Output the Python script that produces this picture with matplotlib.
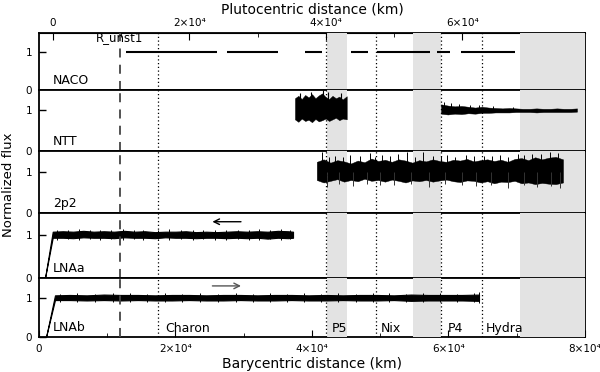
import matplotlib
matplotlib.use("Agg")
import matplotlib.pyplot as plt
from matplotlib.ticker import FuncFormatter, MultipleLocator, FixedLocator

plt.rcParams['font.family'] = ['DejaVu Sans']

# ---------------- data (km, barycentric) ----------------
panel_names = ["NACO", "NTT", "2p2", "LNAa", "LNAb"]
pluto_offset = 2035  # barycentric - plutocentric

# NACO: segments at flux 1
naco_start = [12750, 27550, 38970, 45710, 49520, 58320, 61830]
naco_end = [26080, 35020, 41470, 48210, 57290, 60220, 69740]

# NTT
ntt1_x = [37500, 38000, 38500, 39000, 39500, 40000, 40500, 41000, 41500, 42000, 42500, 43000, 43500, 44000, 44500, 45090]
ntt1_hi = [1.30, 1.36, 1.28, 1.38, 1.32, 1.40, 1.30, 1.37, 1.42, 1.33, 1.28, 1.36, 1.30, 1.34, 1.27, 1.35]
ntt1_lo = [0.78, 0.72, 0.80, 0.74, 0.77, 0.71, 0.79, 0.73, 0.76, 0.80, 0.74, 0.78, 0.82, 0.76, 0.80, 0.78]
ntt1_spk_x = [38200, 39800, 41630, 42400, 44300]
ntt1_spk = [1.44, 1.45, 1.50, 1.45, 1.43]
ntt2_x = [58900, 59900, 60900, 61900, 62900, 63900, 64900, 65900, 66900, 67900, 68900, 69900, 70900, 71900, 72900, 73900, 74900, 75900, 76900, 77900, 78830]
ntt2_hi = [1.15, 1.12, 1.10, 1.11, 1.09, 1.07, 1.09, 1.07, 1.06, 1.05, 1.06, 1.05, 1.04, 1.04, 1.05, 1.04, 1.04, 1.05, 1.04, 1.04, 1.05]
ntt2_lo = [0.92, 0.90, 0.92, 0.91, 0.93, 0.92, 0.94, 0.94, 0.95, 0.95, 0.95, 0.96, 0.96, 0.96, 0.95, 0.96, 0.96, 0.96, 0.96, 0.96, 0.97]
ntt2_spk_x = [59400, 60300, 61500, 63200, 64400, 66500, 69400]
ntt2_spk = [1.20, 1.18, 1.15, 1.13, 1.14, 1.10, 1.09]

# 2p2
p2_x = [40700, 41700, 42700, 43700, 44700, 45700, 46700, 47700, 48700, 49700, 50700, 51700, 52700, 53700, 54700, 55700, 56700, 57700, 58700, 59700, 60700, 61700, 62700, 63700, 64700, 65700, 66700, 67700, 68700, 69700, 70700, 71700, 72700, 73700, 74700, 75700, 76780]
p2_hi = [1.24, 1.30, 1.22, 1.28, 1.25, 1.20, 1.27, 1.23, 1.32, 1.26, 1.29, 1.24, 1.30, 1.27, 1.22, 1.28, 1.25, 1.30, 1.26, 1.24, 1.29, 1.27, 1.31, 1.25, 1.28, 1.30, 1.26, 1.29, 1.24, 1.31, 1.33, 1.28, 1.35, 1.30, 1.34, 1.36, 1.30]
p2_lo = [0.80, 0.74, 0.78, 0.82, 0.76, 0.80, 0.77, 0.83, 0.78, 0.80, 0.76, 0.81, 0.78, 0.74, 0.79, 0.77, 0.80, 0.76, 0.79, 0.81, 0.77, 0.75, 0.79, 0.78, 0.74, 0.77, 0.72, 0.76, 0.75, 0.78, 0.72, 0.74, 0.70, 0.73, 0.71, 0.70, 0.74]
p2_spk_x = [41400, 42500, 43300, 44500, 45600, 47000, 48500, 49300, 50300, 51400, 52600, 53900, 55100, 56300, 57700, 58900, 59800, 61000, 62500, 63800, 65200, 66400, 67600, 68700, 70200, 71000, 72300, 73600, 74900, 76100]
p2_spk = [1.47, 1.36, 1.38, 1.35, 1.40, 1.37, 1.46, 1.36, 1.40, 1.38, 1.42, 1.47, 1.36, 1.47, 1.38, 1.37, 1.40, 1.36, 1.41, 1.37, 1.39, 1.38, 1.40, 1.36, 1.42, 1.40, 1.44, 1.43, 1.47, 1.45]
p2_dip_x = [42150, 44000, 46000, 48000, 50000, 52000, 54500, 57200, 59500, 62000, 64000, 66300, 68700, 71000, 73000, 75000, 76300]
p2_dip = [0.62, 0.70, 0.66, 0.71, 0.69, 0.68, 0.70, 0.64, 0.70, 0.68, 0.66, 0.69, 0.60, 0.67, 0.63, 0.65, 0.60]

# LNAa
lnaa_x = [880, 2010, 3500, 5000, 6500, 8000, 9500, 11000, 12500, 14000, 15500, 17000, 18500, 20000, 21500, 23000, 24500, 26000, 27500, 29000, 30500, 32000, 33500, 35000, 36500, 37220]
lnaa_hi = [0.0, 1.07, 1.08, 1.07, 1.09, 1.07, 1.08, 1.07, 1.09, 1.07, 1.08, 1.06, 1.07, 1.07, 1.08, 1.06, 1.07, 1.06, 1.07, 1.08, 1.07, 1.08, 1.07, 1.09, 1.08, 1.07]
lnaa_lo = [0.0, 0.93, 0.93, 0.92, 0.94, 0.93, 0.93, 0.92, 0.94, 0.93, 0.93, 0.92, 0.94, 0.93, 0.93, 0.92, 0.93, 0.93, 0.92, 0.93, 0.92, 0.93, 0.91, 0.93, 0.92, 0.93]
lnaa_spk_x = [2600, 4200, 5900, 7400, 9000, 10600, 12300, 13900, 15200, 17400, 19000, 20800, 22600, 24100, 25800, 27400, 29100, 30700, 32300, 33900, 35400, 36800]
lnaa_spk_hi = [1.12, 1.11, 1.13, 1.10, 1.12, 1.11, 1.14, 1.10, 1.12, 1.11, 1.13, 1.10, 1.12, 1.10, 1.11, 1.10, 1.12, 1.11, 1.14, 1.12, 1.13, 1.12]
lnaa_spk_lo = [0.88, 0.89, 0.87, 0.90, 0.88, 0.89, 0.88, 0.90, 0.87, 0.89, 0.88, 0.90, 0.88, 0.89, 0.88, 0.87, 0.89, 0.88, 0.87, 0.89, 0.88, 0.89]

# LNAb
lnab_x = [1030, 2340, 4500, 7000, 9500, 12000, 14500, 17000, 19500, 22000, 24500, 27000, 29500, 32000, 34500, 37000, 39500, 42000, 44500, 47000, 49500, 52000, 54500, 57000, 59500, 62000, 64470]
lnab_hi = [0.0, 1.06, 1.07, 1.06, 1.08, 1.07, 1.07, 1.06, 1.07, 1.07, 1.06, 1.07, 1.07, 1.06, 1.07, 1.07, 1.06, 1.07, 1.06, 1.07, 1.07, 1.06, 1.08, 1.07, 1.07, 1.07, 1.08]
lnab_lo = [0.0, 0.94, 0.94, 0.93, 0.94, 0.93, 0.94, 0.93, 0.93, 0.94, 0.93, 0.93, 0.94, 0.93, 0.93, 0.94, 0.93, 0.93, 0.94, 0.93, 0.93, 0.94, 0.92, 0.93, 0.93, 0.93, 0.92]
lnab_spk_x = [3100, 5600, 8200, 10800, 13300, 15800, 18500, 21000, 23600, 26200, 28800, 31300, 33800, 36300, 38800, 41300, 43800, 46400, 48900, 51300, 53800, 56300, 58800, 61300, 63700, 64400]
lnab_spk_hi = [1.10, 1.11, 1.10, 1.12, 1.11, 1.10, 1.12, 1.10, 1.11, 1.10, 1.12, 1.10, 1.11, 1.10, 1.11, 1.10, 1.11, 1.10, 1.12, 1.11, 1.10, 1.13, 1.11, 1.10, 1.12, 1.14]
lnab_spk_lo = [0.90, 0.89, 0.90, 0.88, 0.90, 0.89, 0.90, 0.88, 0.90, 0.89, 0.90, 0.89, 0.88, 0.90, 0.89, 0.90, 0.88, 0.90, 0.89, 0.90, 0.88, 0.90, 0.89, 0.88, 0.89, 0.87]

# reference lines and shaded bands
sat_names = ["Charon", "P5", "Nix", "P4", "Hydra"]
sat_x = [17480, 42050, 49380, 58860, 64910]
sat_label_x = [18500, 42900, 50100, 59900, 65400]
r_unst1 = 11870
band_start = [42150, 54800, 70480]
band_end = [45090, 58860, 80000]

# tick values
bary_ticks = [0, 20000, 40000, 60000, 80000]
pluto_ticks = [0, 20000, 40000, 60000]
pluto_minor = [10000, 30000, 50000, 70000]

# ---------------- figure ----------------
fig = plt.figure(figsize=(6.0, 3.72), dpi=100)
gs = fig.add_gridspec(5, 1, left=0.065, right=0.975, top=0.911, bottom=0.094,
                      hspace=0, height_ratios=[57, 61, 62, 65, 59])
axes = [fig.add_subplot(gs[i]) for i in range(5)]

sci = lambda v, p: "0" if v == 0 else "%d×10⁴" % round(v / 1e4)

for i, ax in enumerate(axes):
    ax.set_xlim(0, 80000)
    ax.set_ylim(0, 1.5)
    ax.set_yticks([0, 1])
    ax.set_yticklabels(["0", "1"])
    ax.tick_params(axis='y', direction='in', length=5, width=1, labelsize=7.5, pad=5)
    for s in ax.spines.values():
        s.set_linewidth(1.3)
        s.set_zorder(2)
    for a, b in zip(band_start, band_end):
        ax.axvspan(a, b, color='#e3e3e3', lw=0, zorder=3)
    for x in sat_x:
        ax.axvline(x, color='black', lw=0.9, ls=(0, (1, 2)), zorder=5)
    ax.axvline(r_unst1, color='#444444', lw=1.3, ls=(0, (5, 4)), zorder=5)
    ax.text(2000, 0.08, panel_names[i], fontsize=9, ha='left', va='bottom', zorder=6)
    if i < 4:
        ax.tick_params(axis='x', bottom=False, labelbottom=False)
    else:
        ax.xaxis.set_major_locator(FixedLocator(bary_ticks))
        ax.xaxis.set_minor_locator(MultipleLocator(10000))
        ax.xaxis.set_major_formatter(FuncFormatter(sci))
        ax.tick_params(axis='x', which='major', direction='in', length=5, labelsize=7.5, pad=5)
        ax.tick_params(axis='x', which='minor', direction='in', length=3)
        ax.set_xlabel("Barycentric distance (km)", fontsize=10, labelpad=2)

# NACO
axes[0].hlines([1] * len(naco_start), naco_start, naco_end, color='black', lw=1.5, zorder=4)
axes[0].text(r_unst1, 1.2, "R_unst1", fontsize=8.5, ha='center', va='bottom', zorder=6)

# NTT
axes[1].fill_between(ntt1_x, ntt1_lo, ntt1_hi, color='black', lw=0.3, zorder=4)
axes[1].vlines(ntt1_spk_x, 1.0, ntt1_spk, color='black', lw=0.8, zorder=4)
axes[1].fill_between(ntt2_x, ntt2_lo, ntt2_hi, color='black', lw=0.3, zorder=4)
axes[1].vlines(ntt2_spk_x, 1.0, ntt2_spk, color='black', lw=0.7, zorder=4)

# 2p2
axes[2].fill_between(p2_x, p2_lo, p2_hi, color='black', lw=0.3, zorder=4)
axes[2].vlines(p2_spk_x, 1.0, p2_spk, color='black', lw=0.7, zorder=4)
axes[2].vlines(p2_dip_x, p2_dip, 1.0, color='#333333', lw=0.7, zorder=4)

# LNAa
axes[3].fill_between(lnaa_x, lnaa_lo, lnaa_hi, color='black', lw=0.8, zorder=4)
axes[3].vlines(lnaa_spk_x, lnaa_spk_lo, lnaa_spk_hi, color='black', lw=0.7, zorder=4)
axes[3].annotate("", xy=(25000, 1.3), xytext=(30000, 1.3),
                 arrowprops=dict(arrowstyle='->', color='black', lw=1.0), zorder=6)

# LNAb
axes[4].fill_between(lnab_x, lnab_lo, lnab_hi, color='black', lw=0.8, zorder=4)
axes[4].vlines(lnab_spk_x, lnab_spk_lo, lnab_spk_hi, color='black', lw=0.7, zorder=4)
axes[4].annotate("", xy=(30000, 1.3), xytext=(25000, 1.3),
                 arrowprops=dict(arrowstyle='->', color='#555555', lw=1.0), zorder=6)
for name, lx in zip(sat_names, sat_label_x):
    axes[4].text(lx, 0.05, name, fontsize=9, ha='left', va='bottom', zorder=6)

# top (plutocentric) axis
sec = axes[0].secondary_xaxis('top', functions=(lambda x: x - pluto_offset,
                                                lambda x: x + pluto_offset))
sec.xaxis.set_major_locator(FixedLocator(pluto_ticks))
sec.xaxis.set_minor_locator(FixedLocator(pluto_minor))
sec.xaxis.set_major_formatter(FuncFormatter(sci))
sec.tick_params(axis='x', which='major', direction='in', length=5, labelsize=7.5, pad=4)
sec.tick_params(axis='x', which='minor', direction='in', length=3)
sec.set_xlabel("Plutocentric distance (km)", fontsize=10, labelpad=3)

fig.text(0.015, 0.503, "Normalized flux", rotation=90, fontsize=9.5, ha='center', va='center')

fig.savefig("out.png", dpi=100)
